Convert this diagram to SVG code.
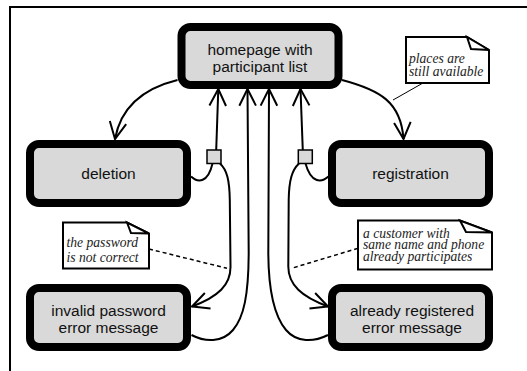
<svg xmlns="http://www.w3.org/2000/svg" width="527" height="371" viewBox="0 0 527 371">
<defs>
<marker id="arr" markerUnits="userSpaceOnUse" orient="auto" overflow="visible" markerWidth="20" markerHeight="20" refX="0" refY="0">
<path d="M-16.7,-8.3 L0,0 L-16.7,8.3" fill="none" stroke="#000" stroke-width="2" stroke-linejoin="miter"/>
</marker>
</defs>
<style>
.frame{fill:none;stroke:#000;stroke-width:2}
.node{fill:#d9d9d9;stroke:#000;stroke-width:8}
.lbl{font-family:"Liberation Sans",Arial,sans-serif;font-size:15.5px;fill:#111;text-anchor:middle}
.note{fill:#fff;stroke:#000;stroke-width:2;stroke-linejoin:miter}
.ntxt{font-family:"Liberation Serif","Times New Roman",serif;font-style:italic;font-size:13.6px;fill:#222}
.edge{fill:none;stroke:#000;stroke-width:2}
.arrow{marker-end:url(#arr)}
.dash{fill:none;stroke:#000;stroke-width:1.5;stroke-dasharray:4 3}
.link{fill:none;stroke:#000;stroke-width:1}
.junc{fill:#d9d9d9;stroke:#000;stroke-width:1.5}
</style>
<rect class="frame" x="10" y="7" width="530" height="380"/>
<g id="connectors">
<path class="edge arrow" d="M177.5,80 C145,88 121,106 115,139"/>
<path class="edge arrow" d="M342,80 C380,90 401,102 403.5,139"/>
<path class="edge" d="M191,176.5 C198,183 208,183 212.5,163.5"/>
<path class="edge arrow" d="M216,156 L218.3,89"/>
<path class="edge arrow" d="M220,163.5 C227,170 229.5,180 229.8,200 L230.5,266 C231,285 218,297 192,306.5"/>
<path class="edge arrow" d="M191.5,335 C205,342 222,343 233,330 C244,317 248.5,295 248.7,253 L247.5,89"/>
<path class="edge" d="M328.5,176.5 C321,183 311,183 305.5,163.5"/>
<path class="edge arrow" d="M303,156 L300.5,89"/>
<path class="edge arrow" d="M299,163.5 C292,170 289,180 288.7,200 L288.3,266 C288,285 302,297 328,306.5"/>
<path class="edge arrow" d="M328,335 C314,342 297,343 286,330 C275,317 268.5,295 268.3,253 L269,89"/>
<path class="link" d="M423,83 L393,100"/>
<path class="dash" d="M149,249 L227,268.3"/>
<path class="dash" d="M358,248.3 L291.5,268.3"/>
</g>
<g id="homepage">
<rect class="node" x="181.5" y="27" width="157" height="58" rx="9"/>
<text class="lbl" x="260" y="55">homepage with</text>
<text class="lbl" x="260" y="72">participant list</text>
</g>
<g id="deletion">
<rect class="node" x="30" y="144" width="157" height="59" rx="9"/>
<text class="lbl" x="108.5" y="179">deletion</text>
</g>
<g id="registration">
<rect class="node" x="332" y="144" width="157" height="59" rx="9"/>
<text class="lbl" x="410.5" y="179">registration</text>
</g>
<g id="invalid">
<rect class="node" x="30" y="288" width="157" height="59" rx="9"/>
<text class="lbl" x="108.5" y="316">invalid password</text>
<text class="lbl" x="108.5" y="332.5">error message</text>
</g>
<g id="already">
<rect class="node" x="332" y="288" width="157" height="59" rx="9"/>
<text class="lbl" x="412" y="316">already registered</text>
<text class="lbl" x="412" y="332.5">error message</text>
</g>
<g id="junction-left">
<rect class="junc" x="207" y="150" width="14" height="13.5"/>
</g>
<g id="junction-right">
<rect class="junc" x="298.3" y="150" width="14" height="13.5"/>
</g>
<g id="note-places">
<path class="note" d="M406,37 H467 L489,50 V83 H406 Z"/>
<path class="note" d="M467,37 L471,49 L489,50 Z"/>
<text class="ntxt" x="409" y="63">places are</text>
<text class="ntxt" x="409" y="75.5">still available</text>
</g>
<g id="note-password">
<path class="note" d="M63,222.5 H127 L149,233.5 V268.5 H63 Z"/>
<path class="note" d="M127,222.5 L131,233 L149,233.5 Z"/>
<text class="ntxt" x="66.5" y="246.5">the password</text>
<text class="ntxt" x="66.5" y="262">is not correct</text>
</g>
<g id="note-customer">
<path class="note" d="M358,220.5 H460 L492,232.5 V269.5 H358 Z"/>
<path class="note" d="M460,220.5 L466,232 L492,232.5 Z"/>
<text class="ntxt" x="363" y="237.5">a customer with</text>
<text class="ntxt" x="363" y="249.3">same name and phone</text>
<text class="ntxt" x="363" y="261">already participates</text>
</g>
</svg>
